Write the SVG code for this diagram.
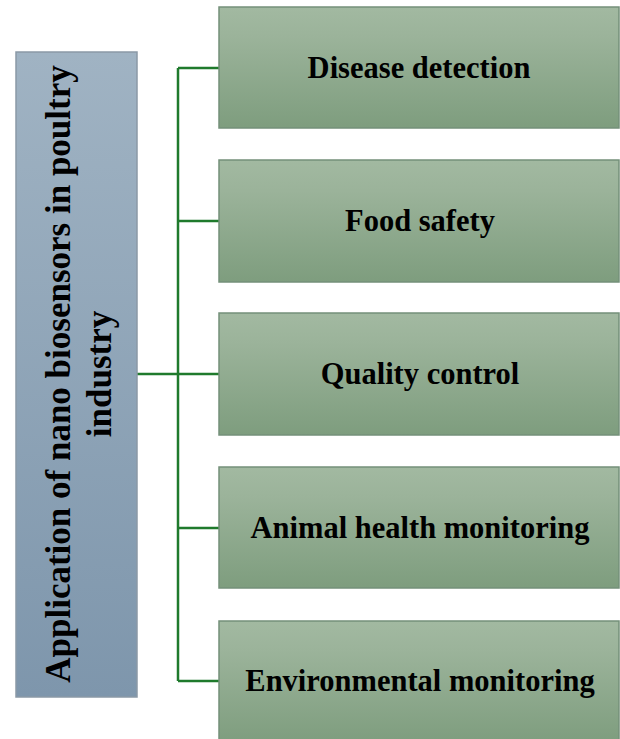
<svg xmlns="http://www.w3.org/2000/svg" width="620" height="739" viewBox="0 0 620 739">
  <defs>
    <linearGradient id="gGreen" x1="0" y1="0" x2="0" y2="1">
      <stop offset="0" stop-color="#a2b9a1"/>
      <stop offset="0.25" stop-color="#9bb39a"/>
      <stop offset="1" stop-color="#7e9d7e"/>
    </linearGradient>
    <linearGradient id="gBlue" x1="0" y1="0" x2="0" y2="1">
      <stop offset="0" stop-color="#a0b3c3"/>
      <stop offset="1" stop-color="#7e96ac"/>
    </linearGradient>
    <style>
      .leaf { fill: url(#gGreen); stroke: #74907a; stroke-width: 1.5; }
      .root { fill: url(#gBlue); stroke: #8b99a6; stroke-width: 1.5; }
      .lbl { font-family: "Liberation Serif", "Times New Roman", serif; font-weight: bold; font-size: 30.5px; fill: #000; text-anchor: middle; }
      .rlbl { font-family: "Liberation Serif", "Times New Roman", serif; font-weight: bold; font-size: 35px; fill: #000; text-anchor: middle; }
      .conn { stroke: #1f7a2c; stroke-width: 2.5; fill: none; }
    </style>
  </defs>
  <rect width="620" height="739" fill="#ffffff"/>

  <g id="connectors">
    <line class="conn" x1="178" y1="68" x2="178" y2="681"/>
    <line class="conn" x1="137" y1="374" x2="219" y2="374"/>
    <line class="conn" x1="178" y1="68" x2="219" y2="68"/>
    <line class="conn" x1="178" y1="221" x2="219" y2="221"/>
    <line class="conn" x1="178" y1="528" x2="219" y2="528"/>
    <line class="conn" x1="178" y1="681" x2="219" y2="681"/>
  </g>

  <g id="root">
    <rect class="root" x="16" y="52" width="121" height="645"/>
    <text class="rlbl" transform="translate(70,374) rotate(-90)" x="0" y="0">Application of nano biosensors in poultry</text>
    <text class="rlbl" transform="translate(111,374) rotate(-90)" x="0" y="0">industry</text>
  </g>

  <g id="disease-detection">
    <rect class="leaf" x="219" y="7" width="400" height="121"/>
    <text class="lbl" x="419" y="78">Disease detection</text>
  </g>
  <g id="food-safety">
    <rect class="leaf" x="219" y="160" width="400" height="122"/>
    <text class="lbl" x="420" y="231">Food safety</text>
  </g>
  <g id="quality-control">
    <rect class="leaf" x="219" y="313" width="400" height="122"/>
    <text class="lbl" x="420" y="384">Quality control</text>
  </g>
  <g id="animal-health-monitoring">
    <rect class="leaf" x="219" y="467" width="400" height="121"/>
    <text class="lbl" x="420" y="538">Animal health monitoring</text>
  </g>
  <g id="environmental-monitoring">
    <rect class="leaf" x="219" y="621" width="400" height="122"/>
    <text class="lbl" x="420" y="691">Environmental monitoring</text>
  </g>
</svg>
